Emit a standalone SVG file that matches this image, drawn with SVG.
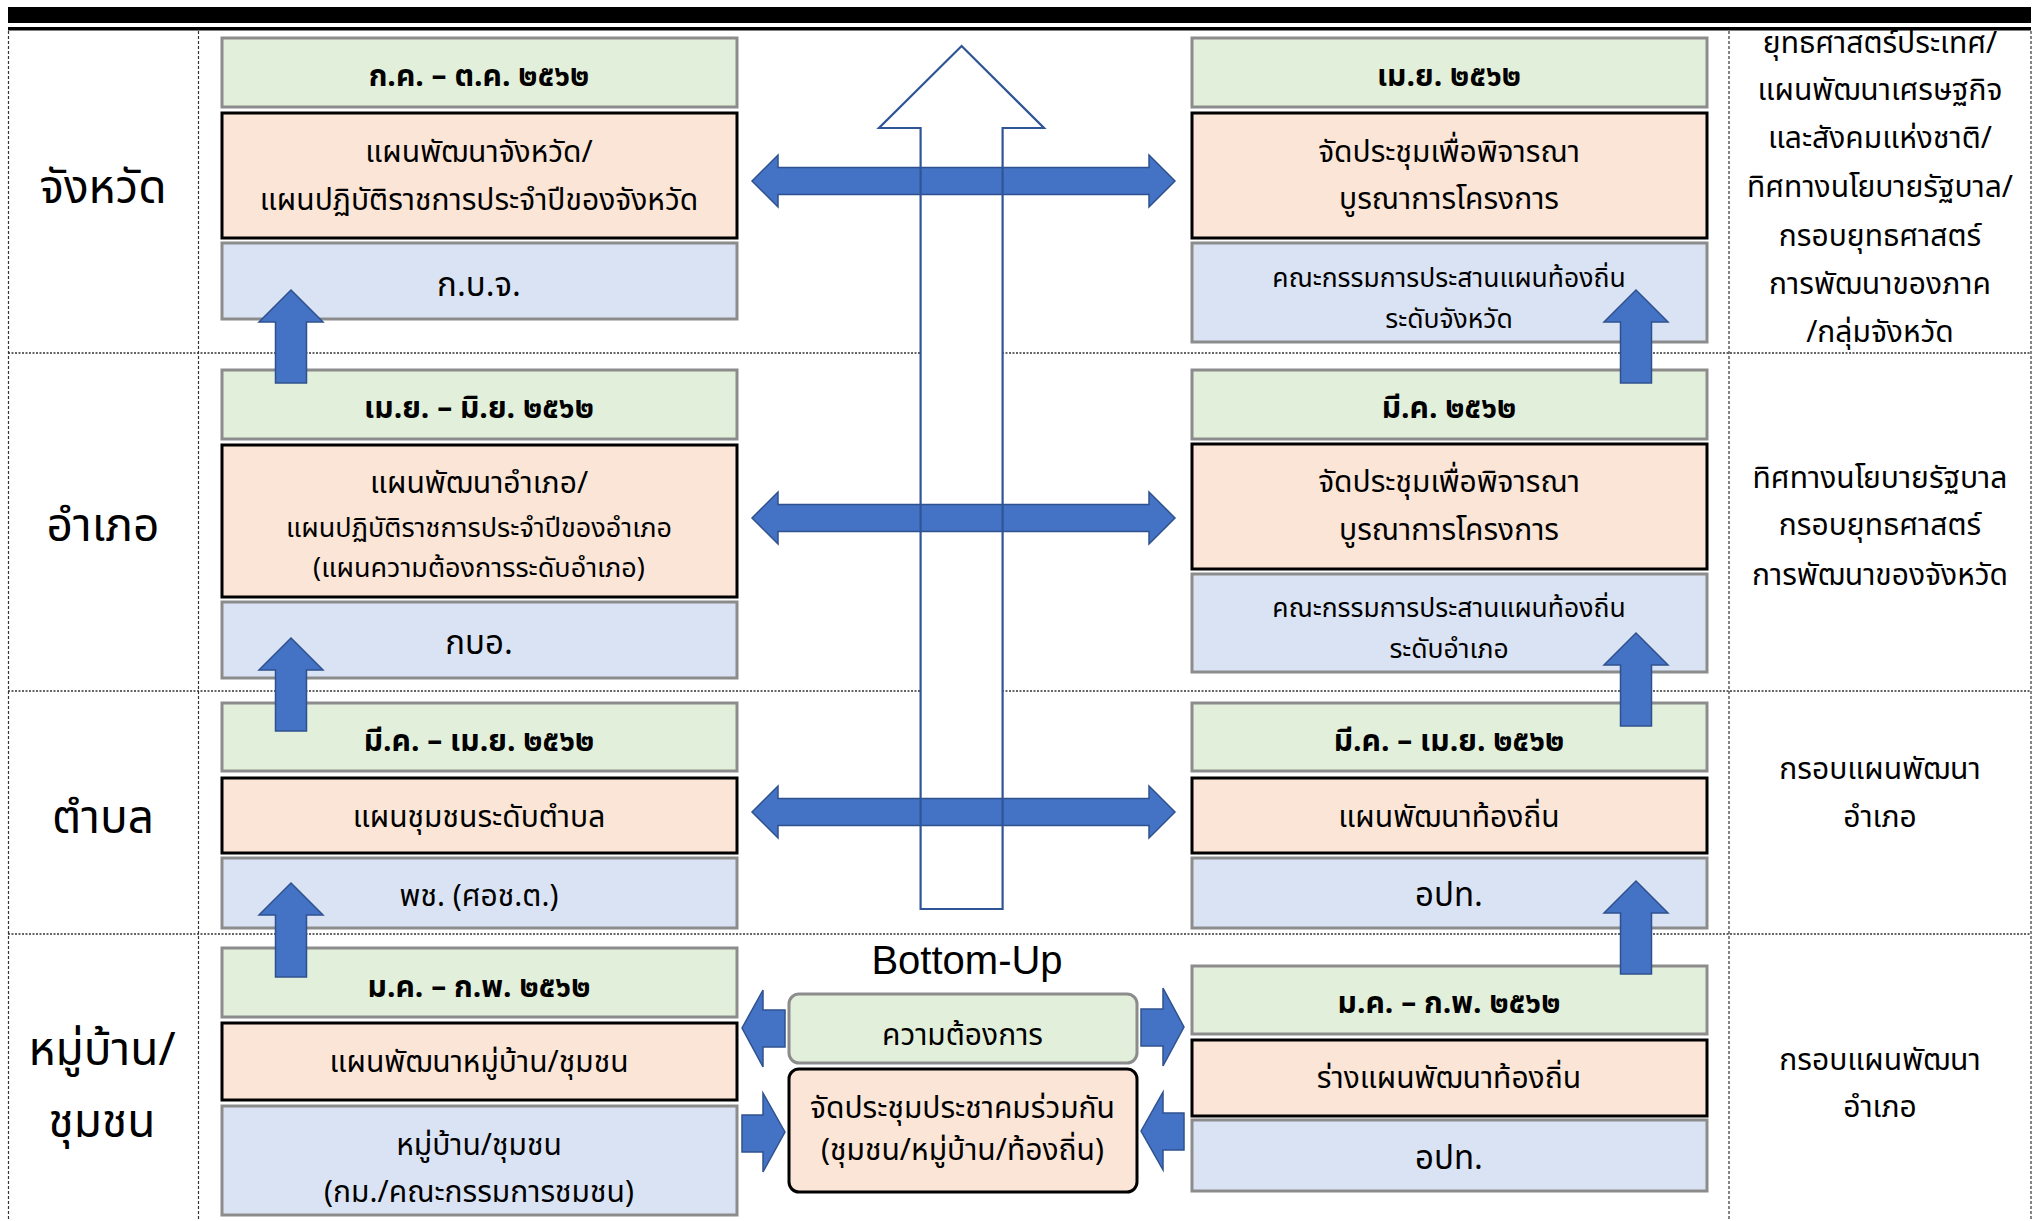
<svg xmlns="http://www.w3.org/2000/svg" width="2042" height="1221" viewBox="0 0 2042 1221">
<style>
.t{font-family:"Noto Sans Thai","Noto Sans","DejaVu Sans",sans-serif;fill:#000;text-anchor:middle}
.f28{font-size:30px}
.f24{font-size:27px}
.fs{font-size:26.5px}
.f32{font-size:33px}
.big{font-size:46px}
.b{font-weight:bold}
.g{fill:#E2EFDA;stroke:#8C8C8C;stroke-width:3}
.o{fill:#FBE5D6;stroke:#000;stroke-width:3}
.bl{fill:#DAE3F3;stroke:#8C8C8C;stroke-width:3}
.arr{fill:#4472C4;stroke:#2F528F;stroke-width:1.5}
.dash{stroke:#333;stroke-width:1.2;stroke-dasharray:3 2;fill:none}
.hd{stroke:#333;stroke-width:1.6;stroke-dasharray:2 1.5;fill:none}
</style>
<rect width="2042" height="1221" fill="#fff"/>
<g id="frame">
<rect x="8" y="7" width="2023" height="16" fill="#000"/>
<rect x="8" y="27" width="2023" height="3.5" fill="#000"/>
<line class="dash" x1="8.5" y1="31" x2="8.5" y2="1221"/>
<line class="dash" x1="198.5" y1="31" x2="198.5" y2="1221"/>
<line class="dash" x1="1729" y1="31" x2="1729" y2="1221"/>
<line class="dash" x1="2031" y1="31" x2="2031" y2="1221"/>
<line class="hd" x1="8" y1="353" x2="2031" y2="353"/>
<line class="hd" x1="8" y1="691" x2="2031" y2="691"/>
<line class="hd" x1="8" y1="934" x2="2031" y2="934"/>
</g>
<g id="row-labels">
<text class="t big" x="103" y="203">จังหวัด</text>
<text class="t big" x="103" y="541">อำเภอ</text>
<text class="t big" x="103" y="833">ตำบล</text>
<text class="t big" x="102" y="1065">หมู่บ้าน/</text>
<text class="t big" x="102" y="1137">ชุมชน</text>
</g>
<g id="right-notes">
<text class="t f28" x="1880" y="53">ยุทธศาสตร์ประเทศ/</text>
<text class="t f28" x="1880" y="100">แผนพัฒนาเศรษฐกิจ</text>
<text class="t f28" x="1880" y="148">และสังคมแห่งชาติ/</text>
<text class="t f28" x="1880" y="197">ทิศทางนโยบายรัฐบาล/</text>
<text class="t f28" x="1880" y="246">กรอบยุทธศาสตร์</text>
<text class="t f28" x="1880" y="294">การพัฒนาของภาค</text>
<text class="t f28" x="1880" y="342">/กลุ่มจังหวัด</text>
<text class="t f28" x="1880" y="488">ทิศทางนโยบายรัฐบาล</text>
<text class="t f28" x="1880" y="535">กรอบยุทธศาสตร์</text>
<text class="t f28" x="1880" y="585">การพัฒนาของจังหวัด</text>
<text class="t f28" x="1880" y="779">กรอบแผนพัฒนา</text>
<text class="t f28" x="1880" y="827">อำเภอ</text>
<text class="t f28" x="1880" y="1070">กรอบแผนพัฒนา</text>
<text class="t f28" x="1880" y="1117">อำเภอ</text>
</g>
<g id="big-up-arrow-fill">
<path d="M961.6,46 L1044,128 L1002.6,128 L1002.6,909 L920.6,909 L920.6,128 L879,128 Z" fill="#fff"/>
</g>
<g id="l1-date"><rect class="g" x="222" y="38" width="515" height="69"/><text class="t f28 b" x="479" y="86">ก.ค. – ต.ค. ๒๕๖๒</text></g>
<g id="l1-plan"><rect class="o" x="222" y="113" width="515" height="125"/><text class="t f28" x="479" y="162">แผนพัฒนาจังหวัด/</text><text class="t f28" x="479" y="210">แผนปฏิบัติราชการประจำปีของจังหวัด</text></g>
<g id="l1-org"><rect class="bl" x="222" y="243" width="515" height="76"/><text class="t f32" x="479" y="296">ก.บ.จ.</text></g>
<g id="r1-date"><rect class="g" x="1192" y="38" width="515" height="69"/><text class="t f28 b" x="1449" y="86">เม.ย. ๒๕๖๒</text></g>
<g id="r1-meet"><rect class="o" x="1192" y="113" width="515" height="125"/><text class="t f28" x="1449" y="162">จัดประชุมเพื่อพิจารณา</text><text class="t f28" x="1449" y="209">บูรณาการโครงการ</text></g>
<g id="r1-org"><rect class="bl" x="1192" y="243" width="515" height="99"/><text class="t fs" x="1449" y="287">คณะกรรมการประสานแผนท้องถิ่น</text><text class="t fs" x="1449" y="328">ระดับจังหวัด</text></g>
<g id="l2-date"><rect class="g" x="222" y="370" width="515" height="69"/><text class="t f28 b" x="479" y="418">เม.ย. – มิ.ย. ๒๕๖๒</text></g>
<g id="l2-plan"><rect class="o" x="222" y="445" width="515" height="152"/><text class="t f28" x="479" y="493">แผนพัฒนาอำเภอ/</text><text class="t f24" x="479" y="537">แผนปฏิบัติราชการประจำปีของอำเภอ</text><text class="t f24" x="479" y="577">(แผนความต้องการระดับอำเภอ)</text></g>
<g id="l2-org"><rect class="bl" x="222" y="602" width="515" height="76"/><text class="t f32" x="479" y="654">กบอ.</text></g>
<g id="r2-date"><rect class="g" x="1192" y="370" width="515" height="69"/><text class="t f28 b" x="1449" y="418">มี.ค. ๒๕๖๒</text></g>
<g id="r2-meet"><rect class="o" x="1192" y="444" width="515" height="125"/><text class="t f28" x="1449" y="492">จัดประชุมเพื่อพิจารณา</text><text class="t f28" x="1449" y="540">บูรณาการโครงการ</text></g>
<g id="r2-org"><rect class="bl" x="1192" y="574" width="515" height="98"/><text class="t fs" x="1449" y="617">คณะกรรมการประสานแผนท้องถิ่น</text><text class="t fs" x="1449" y="658">ระดับอำเภอ</text></g>
<g id="l3-date"><rect class="g" x="222" y="703" width="515" height="68"/><text class="t f28 b" x="479" y="751">มี.ค. – เม.ย. ๒๕๖๒</text></g>
<g id="l3-plan"><rect class="o" x="222" y="778" width="515" height="75"/><text class="t f28" x="479" y="827">แผนชุมชนระดับตำบล</text></g>
<g id="l3-org"><rect class="bl" x="222" y="858" width="515" height="70"/><text class="t f28" x="479" y="906">พช. (ศอช.ต.)</text></g>
<g id="r3-date"><rect class="g" x="1192" y="703" width="515" height="68"/><text class="t f28 b" x="1449" y="751">มี.ค. – เม.ย. ๒๕๖๒</text></g>
<g id="r3-plan"><rect class="o" x="1192" y="778" width="515" height="75"/><text class="t f28" x="1449" y="827">แผนพัฒนาท้องถิ่น</text></g>
<g id="r3-org"><rect class="bl" x="1192" y="858" width="515" height="70"/><text class="t f32" x="1449" y="906">อปท.</text></g>
<g id="l4-date"><rect class="g" x="222" y="948" width="515" height="69"/><text class="t f28 b" x="479" y="997">ม.ค. – ก.พ. ๒๕๖๒</text></g>
<g id="l4-plan"><rect class="o" x="222" y="1023" width="515" height="77"/><text class="t f28" x="479" y="1072">แผนพัฒนาหมู่บ้าน/ชุมชน</text></g>
<g id="l4-org"><rect class="bl" x="222" y="1106" width="515" height="109"/><text class="t f28" x="479" y="1155">หมู่บ้าน/ชุมชน</text><text class="t f28" x="479" y="1202">(กม./คณะกรรมการชมชน)</text></g>
<g id="r4-date"><rect class="g" x="1192" y="966" width="515" height="68"/><text class="t f28 b" x="1449" y="1013">ม.ค. – ก.พ. ๒๕๖๒</text></g>
<g id="r4-plan"><rect class="o" x="1192" y="1040" width="515" height="76"/><text class="t f28" x="1449" y="1088">ร่างแผนพัฒนาท้องถิ่น</text></g>
<g id="r4-org"><rect class="bl" x="1192" y="1120" width="515" height="71"/><text class="t f32" x="1449" y="1169">อปท.</text></g>
<g id="bottom-up-label"><text x="967" y="974" style="font-family:'Liberation Sans',sans-serif;font-size:40px;text-anchor:middle;fill:#000">Bottom-Up</text></g>
<g id="c-need"><rect x="789" y="994" width="348" height="69" rx="10" fill="#E2EFDA" stroke="#8C8C8C" stroke-width="3"/><text class="t f28" x="962.5" y="1045">ความต้องการ</text></g>
<g id="c-meet"><rect x="789" y="1069" width="348" height="123" rx="10" fill="#FBE5D6" stroke="#000" stroke-width="3"/><text class="t f28" x="962.5" y="1118">จัดประชุมประชาคมร่วมกัน</text><text class="t f28" x="962.5" y="1160">(ชุมชน/หมู่บ้าน/ท้องถิ่น)</text></g>
<g id="connectors">
<path class="arr" d="M752,181 L778,155 L778,167.5 L1149,167.5 L1149,155 L1175,181 L1149,207 L1149,194.5 L778,194.5 L778,207 Z"/>
<path class="arr" d="M752,518 L778,492 L778,504.5 L1149,504.5 L1149,492 L1175,518 L1149,544 L1149,531.5 L778,531.5 L778,544 Z"/>
<path class="arr" d="M752,812 L778,786 L778,798.5 L1149,798.5 L1149,786 L1175,812 L1149,838 L1149,825.5 L778,825.5 L778,838 Z"/>
<path d="M961.6,46 L1044,128 L1002.6,128 L1002.6,909 L920.6,909 L920.6,128 L879,128 Z" fill="none" stroke="#2F5597" stroke-width="2.2"/>
<path class="arr" d="M291,290 L323,322 L306.5,322 L306.5,383 L275.5,383 L275.5,322 L259,322 Z"/>
<path class="arr" d="M291,638 L323,670 L306.5,670 L306.5,731 L275.5,731 L275.5,670 L259,670 Z"/>
<path class="arr" d="M291,883 L323,915 L306.5,915 L306.5,977 L275.5,977 L275.5,915 L259,915 Z"/>
<path class="arr" d="M1636,290 L1668,322 L1651.5,322 L1651.5,383 L1620.5,383 L1620.5,322 L1604,322 Z"/>
<path class="arr" d="M1636,633 L1668,665 L1651.5,665 L1651.5,726 L1620.5,726 L1620.5,665 L1604,665 Z"/>
<path class="arr" d="M1636,881 L1668,913 L1651.5,913 L1651.5,974 L1620.5,974 L1620.5,913 L1604,913 Z"/>
<path class="arr" d="M742,1028 L763,990 L763,1010 L785,1010 L785,1047 L763,1047 L763,1067 Z"/>
<path class="arr" d="M785,1132 L763,1093 L763,1115 L742,1115 L742,1152 L763,1152 L763,1172 Z"/>
<path class="arr" d="M1184,1027 L1163,988 L1163,1009 L1141,1009 L1141,1046 L1163,1046 L1163,1066 Z"/>
<path class="arr" d="M1141,1131 L1163,1092 L1163,1113 L1184,1113 L1184,1150 L1163,1150 L1163,1170 Z"/>
</g>
</svg>
